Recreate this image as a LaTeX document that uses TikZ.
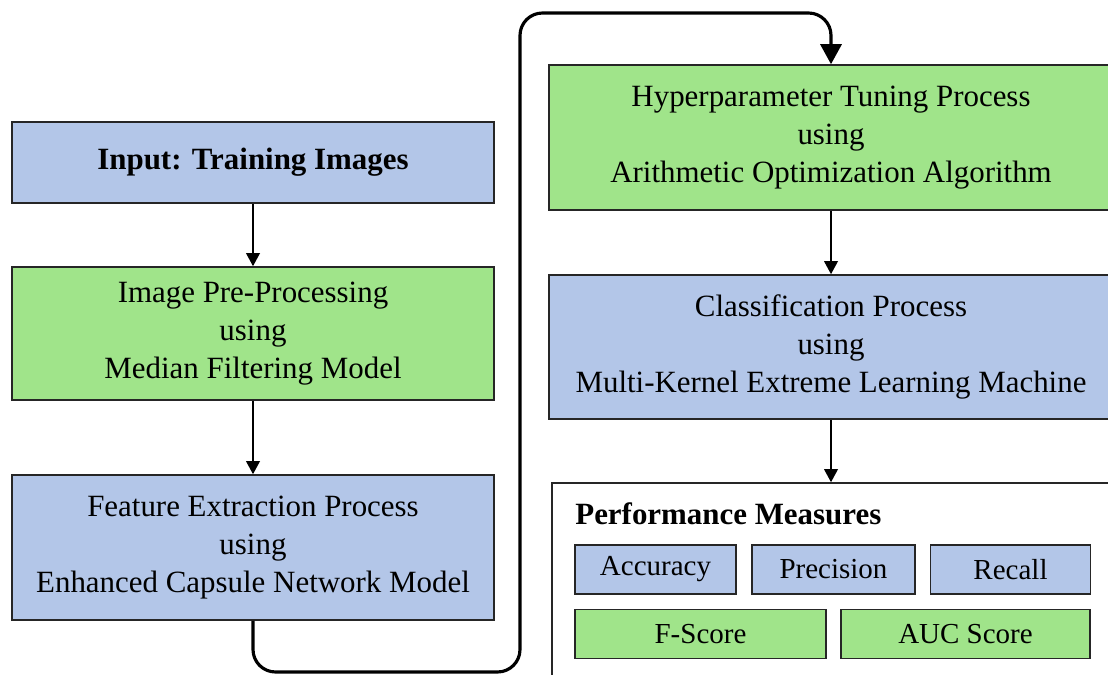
\documentclass[tikz,border=0pt]{standalone}
\usepackage{fontspec}
\setmainfont{Liberation Serif}
\usetikzlibrary{arrows.meta}
\definecolor{boxblue}{RGB}{179,198,232}
\definecolor{boxgreen}{RGB}{160,228,138}

\begin{document}
\begin{tikzpicture}[x=0.02cm, y=0.02cm,
  box/.style={draw=black!85, line width=0.9pt, align=center, inner sep=0pt, font=\fontsize{17.6}{21.6}\selectfont},
  bluebox/.style={box, fill=boxblue},
  greenbox/.style={box, fill=boxgreen},
  measure/.style={draw=black!85, line width=0.9pt, inner sep=0pt, minimum height=0.98cm, font=\fontsize{16.5}{20}\selectfont},
  flow/.style={line width=1.1pt, -{Triangle[length=0.26cm,width=0.27cm]}},
  loopflow/.style={line width=1.8pt, rounded corners=0.45cm, -{Triangle[length=0.4cm,width=0.42cm]}}]
\fill [white] (0,0) rectangle (1108,-675);
\useasboundingbox (0,0) rectangle (1108,-675);
\node [bluebox, minimum width=9.64cm, minimum height=1.62cm] (inp) at (253,-162.5) {\textbf{Input: Training Images}};
\node [greenbox, minimum width=9.64cm, minimum height=2.66cm] (pre) at (253,-333.5) {Image Pre-Processing\\using\\Median Filtering Model};
\node [bluebox, minimum width=9.64cm, minimum height=2.9cm] (feat) at (253,-547.5) {Feature Extraction Process\\using\\Enhanced Capsule Network Model};
\node [greenbox, minimum width=11.28cm, minimum height=2.9cm] (hyp) at (831,-137.5) {Hyperparameter Tuning Process\\using\\Arithmetic Optimization Algorithm};
\node [bluebox, minimum width=11.28cm, minimum height=2.88cm] (cls) at (831,-347) {Classification Process\\using\\Multi-Kernel Extreme Learning Machine};
\node [box, fill=white, minimum width=11.16cm, minimum height=4.34cm] (perf) at (831,-591.5) {};
\node [anchor=base west, inner sep=0pt, font=\fontsize{17.6}{21.6}\selectfont\bfseries] (perftitle) at (575,-524) {Performance Measures};
\node [measure, fill=boxblue, minimum width=3.22cm] (acc) at (655.5,-569.5) {Accuracy};
\node [measure, fill=boxblue, minimum width=3.26cm] (prec) at (833.5,-569.5) {Precision};
\node [measure, fill=boxblue, minimum width=3.2cm] (rec) at (1010.5,-569.5) {Recall};
\node [measure, fill=boxgreen, minimum width=5.02cm] (fsc) at (700.5,-634) {F-Score};
\node [measure, fill=boxgreen, minimum width=4.98cm] (auc) at (965.5,-634) {AUC Score};
\draw [flow] (inp) -- (pre);
\draw [flow] (pre) -- (feat);
\draw [flow] (hyp) -- (cls);
\draw [flow] (cls) -- (perf);
\coordinate (lb) at (520,-672);
\coordinate (lt) at (520,-13);
\draw [loopflow] (feat.south) |- (lb) -- (lt) -| (hyp.north);
\end{tikzpicture}
\end{document}
